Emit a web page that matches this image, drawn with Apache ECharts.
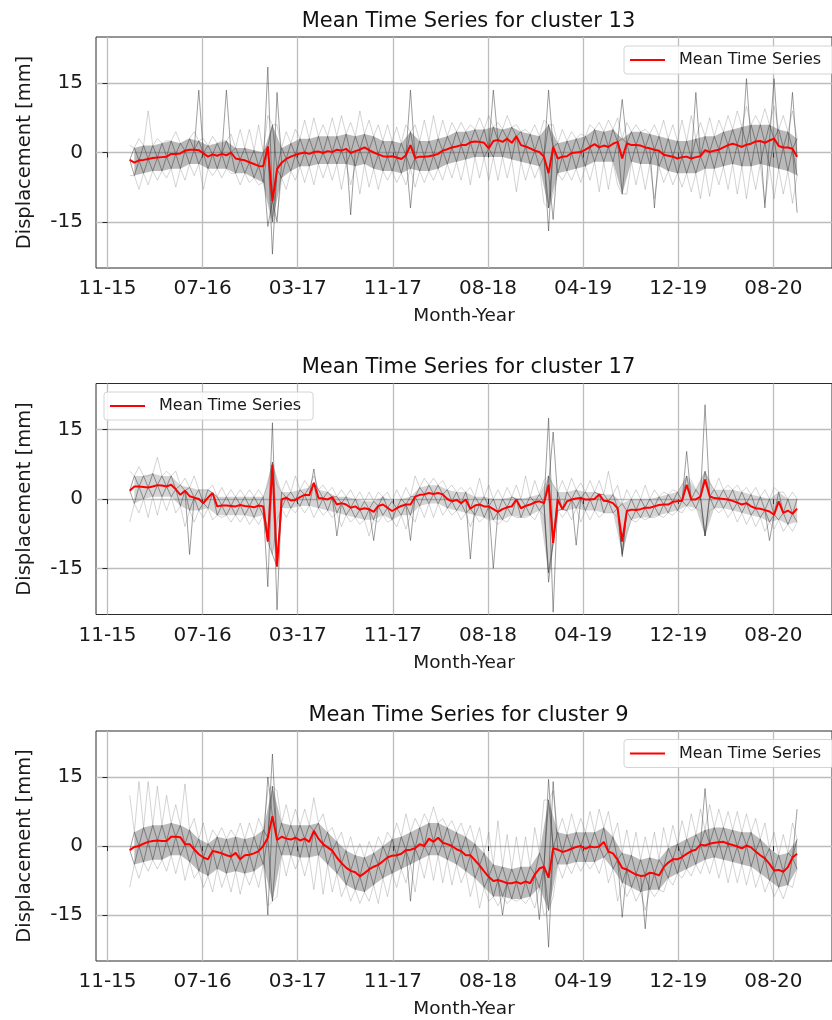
<!DOCTYPE html>
<html>
<head>
<meta charset="utf-8">
<script src="https://cdn.jsdelivr.net/npm/echarts@6.0.0/dist/echarts.min.js"></script>
<style>
  html, body { margin: 0; padding: 0; background: #fff; }
  #chart { width: 832px; height: 1020px; }
</style>
</head>
<body>
<div id="chart"></div>
<script>
// x is counted in days from the "11-15" tick, one acquisition every 12 days
const xTickDays = [0, 248, 496, 744, 992, 1240, 1488, 1736]
const xTickLabels = ['11-15', '07-16', '03-17', '11-17', '08-18', '04-19', '12-19', '08-20']
const yTicks = [-15, 0, 15]
const days = Array.from({ length: 146 }, (_, i) => 58 + 12 * i)
const outerDays = days.filter((_, i) => i % 2 === 0)
const innerDays = days.filter((_, i) => i % 2 === 1)

// ---- cluster 13
const mean13 = [
  -1.6, -2.2, -1.7, -1.6, -1.4, -1.2, -1.1, -1.0, -0.9, -0.3,
  -0.3, -0.2, 0.4, 0.6, 0.6, 0.5, -0.2, -0.9, -0.4, -0.7,
  -0.3, -0.6, 0.0, -1.3, -1.5, -1.7, -2.1, -2.5, -2.9, -3.0,
  1.3, -10.5, -3.6, -2.2, -1.4, -0.9, -0.5, -0.2, 0.0, -0.3,
  0.1, 0.2, -0.1, 0.3, 0.1, 0.6, 0.4, 0.8, -0.1, 0.3,
  0.6, 1.1, 0.5, 0.0, -0.4, -0.8, -0.9, -0.8, -1.1, -1.4,
  -0.6, 1.6, -1.2, -0.9, -0.9, -0.8, -0.6, -0.3, 0.4, 0.7,
  1.1, 1.3, 1.6, 1.6, 2.2, 2.4, 2.3, 2.1, 0.9, 2.5,
  2.7, 2.3, 3.0, 2.1, 3.5, 1.6, 1.3, 0.9, 0.4, 0.1,
  -0.9, -4.5, 1.2, -1.3, -0.9, -0.8, -0.1, 0.0, 0.1, 0.6,
  1.2, 1.8, 1.1, 1.5, 1.2, 1.9, 2.3, -1.3, 2.0, 1.6,
  1.6, 1.5, 1.1, 0.9, 0.6, 0.4, -0.5, -0.7, -0.9, -1.3,
  -1.0, -0.9, -1.3, -1.0, -0.8, 0.5, 0.1, 0.4, 0.6, 1.1,
  1.6, 1.9, 1.6, 1.2, 1.7, 1.9, 2.4, 2.5, 2.1, 2.6,
  3.0, 1.4, 1.1, 1.1, 0.8, -0.9
]
const hi13 = [
  1.5, 3, 9, 3, 2.5, 4.5, 2.5, 4.5, 3, 3.5,
  2.5, 4, 5, 5, 6, 8, 6, 4.5, 5, 7,
  7.5, 6, 7.5, 8, 6.5, 9, 7, 6, 6, 5.5,
  6, 6, 7, 8, 7, 6.5, 6.5, 6, 7.5, 8,
  6.5, 8, 6, 5, 6, 7, 6, 5, 4.5, 4,
  6, 6.5, 7, 7.5, 6.5, 6, 5, 6, 7, 6,
  7, 8, 6.5, 7.5, 7, 8, 9, 10, 8, 9.5,
  10, 8, 9
]
const lo13 = [
  -5, -8, -7, -6, -5.5, -7.5, -6, -5, -8, -5,
  -5.5, -4.5, -7, -6.5, -7, -11, -14, -8, -6, -6.5,
  -7, -5.5, -6, -8, -7, -9, -7.5, -8, -6, -6.5,
  -7, -7.5, -6.5, -6, -6, -5.5, -6, -7, -5.5, -6,
  -6, -5.5, -8.5, -6, -5.5, -11, -9, -6, -6, -6.5,
  -6, -8.5, -8, -7, -9, -7, -8, -10, -6.5, -7,
  -7.5, -8.5, -10, -9.5, -7, -8, -9, -10, -8, -11,
  -10, -9, -11
]
const core13Hi = [
  1.0, 1.5, 1.5, 2.0, 2.5, 2.0, 3.0, 2.5, 1.5, 2.0,
  2.5, 1.0, 1.0, 0.5, 0.0, 6, 1.0, 2.0, 3.0, 3.0,
  3.5, 3.5, 3.5, 4.0, 3.5, 4.0, 3.5, 2.5, 2.5, 2.0,
  4.5, 2.5, 2.5, 3.0, 3.5, 4.5, 4.5, 5.0, 5.0, 5.5,
  5.0, 5.5, 4.5, 4.0, 3.5, 6, 2.0, 2.5, 3.0, 3.5,
  5.0, 4.5, 5.0, 3, 4.5, 4.5, 4.0, 3.5, 3.0, 2.5,
  2.5, 3.0, 3.5, 3.5, 4.5, 5.0, 5.5, 6.0, 6.0, 6.0,
  5.0, 4.5, 3.0
]
const core13Lo = [
  -5, -4.5, -4, -4, -3.5, -3.5, -2.5, -2.5, -3.5, -3.5,
  -3.5, -4.5, -4.5, -5.5, -6.5, -15, -5.5, -4, -3, -3,
  -2.5, -2.5, -2.5, -2.5, -3, -2.5, -3.5, -4, -4, -4.5,
  -3.5, -4, -4, -3.5, -2.5, -2, -1.5, -1, -1, -1,
  -1, -1.5, -2, -2.5, -3, -12, -4.5, -4, -3.5, -3,
  -2, -2, -2, -9, -2, -2.5, -2.5, -3, -4, -4.5,
  -4.5, -4.5, -3.5, -3.5, -3, -2.5, -3, -3, -2.5, -3,
  -3.5, -4, -5
]
// [acquisition index, value] of single-date outliers
const spikes13 = [
  [15, 13.5], [21, 13.5], [30, 18.5], [32, 13], [31, -22], [30, -16], [32, -15],
  [48, -13.5], [61, 13.5], [61, -12], [79, 13.5], [91, 13.5], [91, -17], [92, -14.5],
  [107, 11.5], [114, -12], [123, 13], [134, 16], [138, -12], [140, 16], [144, 13], [145, -13]
]

// ---- cluster 17
const mean17 = [
  1.8, 2.7, 2.7, 2.6, 2.5, 2.7, 3.0, 2.9, 2.7, 3.1,
  2.1, 0.9, 1.8, 0.6, 0.3, 0.0, -0.9, 0.3, 1.3, -1.6,
  -1.4, -1.4, -1.5, -1.6, -1.3, -1.5, -1.6, -1.8, -1.4, -1.6,
  -9.2, 7.4, -14.6, -0.1, 0.3, -0.3, -0.2, 0.4, 0.9, 0.8,
  3.5, 0.2, 0.1, -0.1, 0.4, -1.2, -0.9, -1.2, -1.9, -1.6,
  -2.3, -2.0, -2.2, -2.8, -1.5, -1.2, -1.9, -2.6, -2.0, -1.5,
  -1.2, -1.2, 0.5, 0.9, 1.0, 1.3, 1.1, 1.3, 1.0, 0.0,
  -0.5, -0.2, -0.9, -0.1, -2.1, -1.4, -1.2, -1.6, -1.6, -2.2,
  -2.8, -2.2, -1.8, -1.6, -0.1, -2.0, -1.5, -1.2, -0.7, -0.5,
  -0.9, 3.1, -9.5, -0.1, -2.2, -0.5, -0.1, 0.1, 0.2, -0.1,
  -0.1, 0.0, 1.0, -0.4, -0.5, -0.9, -2.0, -9.2, -2.6, -2.3,
  -2.4, -2.2, -1.9, -1.9, -1.6, -1.3, -1.2, -1.2, -0.6, -0.5,
  -0.4, 3.1, -0.1, -0.1, 0.5, 4.2, 0.6, 0.2, 0.1, 0.0,
  -0.1, -0.4, -0.8, -1.2, -0.9, -1.6, -2.0, -2.1, -2.4, -2.7,
  -3.4, -0.5, -3.0, -2.5, -3.2, -2.1
]
const hi17 = [
  6, 7, 5, 9, 6, 6, 4.5, 5, 2, 3,
  2.5, 2, 2, 2, 2, 3, 3, 4, 5, 4,
  5, 3, 2.5, 2, 2, 1.5, 1.5, 1.5, 1.5, 2,
  2.5, 5, 4.5, 4.5, 4, 3, 2.5, 2.5, 4.5, 3,
  2, 2.5, 3, 5, 4, 4, 3, 4, 4.5, 3.5,
  4, 4, 6, 3, 2, 2, 3, 2, 1.5, 2,
  3, 4, 4, 3.5, 4.5, 3, 3, 2.5, 2.5, 2,
  2.5, 1.5, 1.5
]
const lo17 = [
  -5, -3, -4, -3.5, -2.5, -3, -6, -5, -4, -4.5,
  -4, -5, -5, -5.5, -5.5, -6, -4.5, -4, -3, -3,
  -4, -3.5, -4, -6, -5, -5.5, -8, -5, -5, -6,
  -6.5, -5, -4, -4, -3.5, -3.5, -4.5, -6, -5, -4.5,
  -5.5, -5, -4, -4, -4.5, -3.5, -8, -4, -4.5, -5,
  -4.5, -4, -3, -4, -7, -5, -4.5, -4, -4, -3.5,
  -3, -2.5, -2.5, -2.5, -3, -4, -5, -5.5, -6, -7,
  -6.5, -7, -7
]
const core17Hi = [
  5, 5, 5.5, 5, 5, 3, 2.5, 2, 2, 0.5,
  0.5, 0.5, 0.5, 0.5, 0.5, 8, 1.5, 1.5, 2, 2.5,
  2, 1.5, 0.5, 0.5, 0, -0.5, -0.5, 0.5, -0.5, 0,
  0.5, 2.5, 3, 3, 2, 1.5, 1.5, 0.5, 0.5, 0,
  0, 0.5, 0, 0.5, 1, 5, 1.5, 1.5, 2, 1.5,
  1.5, 1, 1, -1, 0, 0, 0, 0.5, 1, 1.5,
  5, 2, 6, 2, 2, 2, 1.5, 1, 0.5, 0,
  1.5, 0, 0
]
const core17Lo = [
  -1, 0, 0.5, 0.5, 0.5, -1.5, -2.5, -2.5, -2, -3.5,
  -3.5, -3.5, -3.5, -4, -3.5, -12, -2, -2, -1.5, -1.5,
  -2, -2.5, -3, -3.5, -4, -4.5, -4.5, -3.5, -4.5, -3.5,
  -3.5, -1.5, -1, -1, -2, -2.5, -3, -3.5, -4, -4.5,
  -4.5, -3.5, -4, -3.5, -2.5, -16, -2.5, -2.5, -2, -2.5,
  -2.5, -3, -3, -12, -4.5, -4, -4, -3.5, -3, -2.5,
  -1.5, -2, -8, -2, -2, -2.5, -3, -3.5, -4, -5,
  -4.5, -5.5, -5
]
const spikes17 = [
  [13, -12], [31, 16.5], [32, -24], [30, -19], [40, 6.5], [45, -8], [53, -9], [61, -9],
  [74, -13], [79, -15], [91, 17.5], [92, 14.5], [92, -24.5], [91, -18], [97, -10],
  [107, -12.5], [121, 10.3], [125, 20.4], [125, -8], [139, -9]
]

// ---- cluster 9
const mean9 = [
  -0.9, -0.2, 0.0, 0.5, 0.9, 1.1, 1.2, 1.1, 1.1, 2.0,
  2.0, 1.9, 0.4, 0.4, -0.7, -1.8, -2.5, -2.9, -1.1, -1.3,
  -1.6, -2.0, -2.3, -1.5, -2.9, -2.0, -1.9, -1.6, -1.1, 0.0,
  1.8, 6.5, 1.3, 2.0, 1.6, 1.4, 1.8, 1.2, 1.6, 0.9,
  3.3, 1.6, 0.4, -0.3, -1.0, -2.5, -3.7, -4.7, -5.4, -5.7,
  -6.6, -5.9, -5.1, -4.5, -4.1, -3.3, -2.5, -2.1, -2.0, -1.7,
  -0.9, -0.8, -0.5, 0.4, 0.0, 1.6, 0.9, 1.8, 0.7, 0.4,
  0.0, -0.7, -1.1, -2.0, -2.0, -3.1, -4.2, -5.5, -6.7, -7.6,
  -7.4, -7.7, -8.1, -8.1, -7.8, -8.2, -7.7, -8.1, -6.2, -4.9,
  -4.5, -6.9, -0.5, -0.8, -1.3, -1.0, -0.6, -0.2, 0.0, -0.6,
  -0.1, -0.3, -0.1, 0.9, -1.2, -1.6, -3.0, -4.8, -5.1, -5.7,
  -6.2, -6.5, -6.4, -5.8, -6.0, -6.4, -4.6, -3.6, -2.9, -2.9,
  -2.4, -1.7, -1.1, -0.8, 0.3, 0.1, 0.5, 0.7, 0.8, 0.9,
  0.5, 0.2, -0.1, -0.5, 0.1, -0.3, -1.2, -2.0, -2.7, -3.9,
  -5.3, -5.2, -5.6, -4.6, -2.5, -1.7
]
const hi9 = [
  11, 14, 14, 13, 11, 9, 13.5, 6, 5, 3.5,
  4, 3.5, 5, 5, 6, 12, 12, 9, 8, 8,
  10.5, 7, 4, 3, 2, 0.5, 1, 2, 3, 5,
  7, 6, 7, 8.5, 6, 5.5, 5, 4.5, 4, 3,
  5.5, 2.5, 2, 2, 4, 10, 12, 6, 7, 6,
  7.5, 8, 7.5, 5, 3.5, 3, 2, 3, 4, 4.5,
  5.5, 7, 8, 9, 8, 7.5, 7.5, 7, 6, 5,
  3, 2.5, 5
]
const lo9 = [
  -9, -7, -5.5, -5, -5.5, -6, -7.5, -7, -9, -10,
  -9, -10, -10.5, -8.5, -9, -13, -11, -6.5, -5, -6.5,
  -9.5, -10.5, -10, -11, -12, -12.5, -12, -12.5, -11, -9,
  -8, -10, -7, -7.5, -8, -8.5, -8, -11, -13.5, -12,
  -13, -12.5, -12, -12.5, -13.5, -15, -11, -7, -6, -5.5,
  -5, -6, -8, -12, -11, -12, -14, -11, -10, -8.5,
  -7, -6.5, -6, -6, -7, -8, -8, -8.5, -9, -10,
  -11, -11.5, -9
]
const core9Hi = [
  3, 4, 4.5, 4.5, 5, 4.5, 3.5, 1.5, 0.5, 2,
  1.5, 2, 1.5, 2, 3.5, 13, 5, 4.5, 4.5, 4.5,
  5, 3, 1, -1, -2, -2.5, -1.5, 0, 1.5, 2,
  3, 4, 5, 5, 4, 3, 2, 0.5, -1.5, -4,
  -4.5, -5, -4.5, -4.5, -1.5, 10, 3, 2.5, 3, 3,
  3, 4, 2, -1.5, -2, -3, -2.5, -3, -0.5, 0.5,
  1.5, 2.5, 3.5, 4, 4, 3.5, 3, 3, 1.5, -0.5,
  -2, -1.5, 1.5
]
const core9Lo = [
  -4, -3.5, -3, -3, -2, -2, -3.5, -5.5, -6.5, -5,
  -6, -5.5, -6, -5.5, -4, -12, -2, -2, -2.5, -2.5,
  -2, -4, -6, -8.5, -9.5, -10, -8.5, -7, -6, -5,
  -4, -3, -2, -2, -3, -4, -5.5, -7, -9, -11,
  -11, -11.5, -11.5, -11, -9, -14, -4, -4, -3.5, -3.5,
  -3.5, -2.5, -5, -8, -9, -10, -9.5, -9.5, -7, -6,
  -5, -4, -3, -2.5, -3, -3.5, -4, -4.5, -6, -7.5,
  -9, -8.5, -5
]
const spikes9 = [
  [30, 15], [31, 20], [30, -15], [61, -12], [81, -15], [89, -16], [91, 14.5],
  [92, 14], [91, -22], [107, -15.5], [112, -18], [125, 12.5], [145, 8]
]

const panels = [
  { title: 'Mean Time Series for cluster 13', mean: mean13, hi: hi13, lo: lo13, coreHi: core13Hi, coreLo: core13Lo, spikes: spikes13, top: 37, legend: { left: 624, top: 46 }, coreFill: 'rgba(80,80,80,0.4)' },
  { title: 'Mean Time Series for cluster 17', mean: mean17, hi: hi17, lo: lo17, coreHi: core17Hi, coreLo: core17Lo, spikes: spikes17, top: 383.5, legend: { left: 104, top: 392 }, coreFill: 'rgba(90,90,90,0.26)' },
  { title: 'Mean Time Series for cluster 9', mean: mean9, hi: hi9, lo: lo9, coreHi: core9Hi, coreLo: core9Lo, spikes: spikes9, top: 731, legend: { left: 624, top: 739.5 }, coreFill: 'rgba(80,80,80,0.38)' }
]

const FONT = 'DejaVu Sans'
const GRID_LEFT = 96
const GRID_WIDTH = 745
const GRID_HEIGHT = 231

const zip = (xs, ys) => xs.map((x, i) => [x, ys[i]])
const evenOf = arr => arr.filter((_, i) => i % 2 === 0)

// alternate a list taken at the even acquisitions with one taken at the odd ones
function interleave(evenVals, oddVals) {
  const out = []
  outerDays.forEach((d, k) => {
    out.push([d, evenVals[k]])
    if (k < innerDays.length) out.push([innerDays[k], oddVals[k]])
  })
  return out
}

function spikeData(spikes, mean) {
  const out = []
  spikes.forEach(([i, v]) => {
    if (i > 0) out.push([days[i - 1], mean[i - 1]])
    out.push([days[i], v])
    if (i < days.length - 1) out.push([days[i + 1], mean[i + 1]])
    out.push([days[i], '-'])
  })
  return out
}

// the dense core of the member series, drawn as one filled polygon
function coreBand(lo, hi, fill) {
  return (params, api) => {
    if (params.dataIndex !== 0) return null
    const top = innerDays.map((d, i) => api.coord([d, hi[i]]))
    const bottom = innerDays.map((d, i) => api.coord([d, lo[i]])).reverse()
    return {
      type: 'polygon',
      shape: { points: top.concat(bottom) },
      style: { fill }
    }
  }
}

const chart = echarts.init(document.getElementById('chart'), null, { renderer: 'canvas' })

const grid = [], xAxis = [], yAxis = [], title = [], legend = [], series = []

panels.forEach((p, n) => {
  grid.push({
    left: GRID_LEFT, top: p.top, width: GRID_WIDTH, height: GRID_HEIGHT,
    show: true, borderColor: '#2b2b2b', borderWidth: 1, backgroundColor: 'transparent'
  })
  title.push({
    text: p.title, left: GRID_LEFT + GRID_WIDTH / 2, top: p.top - 26, padding: 0,
    textAlign: 'center', textVerticalAlign: 'top',
    textStyle: { fontFamily: FONT, fontSize: 21, fontWeight: 'normal', color: '#111' }
  })
  legend.push({
    left: p.legend.left, top: p.legend.top, padding: [6, 12, 6, 6],
    data: ['Mean Time Series'], icon: 'rect', itemWidth: 35, itemHeight: 2,
    backgroundColor: 'rgba(255,255,255,0.85)', borderColor: '#d4d4d4', borderWidth: 1, borderRadius: 3,
    selectedMode: false,
    textStyle: { fontFamily: FONT, fontSize: 16, color: '#1a1a1a', padding: [0, 0, 0, 9] }
  })
  xAxis.push({
    gridIndex: n, type: 'value', min: -30, max: 1889,
    name: 'Month-Year', nameLocation: 'middle', nameGap: 39,
    nameTextStyle: { fontFamily: FONT, fontSize: 18.5, color: '#1a1a1a' },
    axisLine: { show: false },
    axisTick: { show: true, customValues: xTickDays, length: 5, lineStyle: { color: '#2b2b2b', width: 1 } },
    axisLabel: {
      customValues: xTickDays, margin: 11, fontFamily: FONT, fontSize: 20, color: '#1a1a1a',
      formatter: v => xTickLabels[xTickDays.indexOf(v)]
    },
    splitLine: { show: true, lineStyle: { color: '#bdbdbd', width: 1.3 } }
  })
  yAxis.push({
    gridIndex: n, type: 'value', min: -25, max: 25,
    name: 'Displacement [mm]', nameLocation: 'middle', nameGap: 61,
    nameTextStyle: { fontFamily: FONT, fontSize: 19.5, color: '#1a1a1a' },
    axisLine: { show: false },
    axisTick: { show: true, customValues: yTicks, length: 5, lineStyle: { color: '#2b2b2b', width: 1 } },
    axisLabel: { customValues: yTicks, margin: 13, fontFamily: FONT, fontSize: 20, color: '#1a1a1a' },
    splitLine: { show: true, lineStyle: { color: '#bdbdbd', width: 1.3 } }
  })

  const base = { type: 'line', xAxisIndex: n, yAxisIndex: n, symbol: 'none', silent: true, animation: false }
  const light = { color: 'rgba(120,120,120,0.32)', width: 1 }
  const dark = { color: 'rgba(55,55,55,0.48)', width: 1 }
  series.push(
    {
      type: 'custom', name: 'core ' + n, xAxisIndex: n, yAxisIndex: n, silent: true, clip: true,
      data: innerDays.map((d, i) => [d, p.coreLo[i], p.coreHi[i]]),
      encode: { x: 0, y: [1, 2] },
      renderItem: coreBand(p.coreLo, p.coreHi, p.coreFill)
    },
    // members reaching the outer spread
    { ...base, name: 'members up ' + n, data: interleave(p.hi, p.coreHi), lineStyle: light },
    { ...base, name: 'members down ' + n, data: interleave(p.lo, p.coreLo), lineStyle: light },
    // members inside the dense core
    { ...base, name: 'core up ' + n, data: interleave(evenOf(p.mean), p.coreHi), lineStyle: dark },
    { ...base, name: 'core down ' + n, data: interleave(evenOf(p.mean), p.coreLo), lineStyle: dark },
    { ...base, name: 'spikes ' + n, data: spikeData(p.spikes, p.mean), connectNulls: false, lineStyle: dark },
    { ...base, name: 'Mean Time Series', data: zip(days, p.mean), z: 5,
      itemStyle: { color: '#ff0000' }, lineStyle: { color: '#ff0000', width: 2 } }
  )
})

chart.setOption({
  backgroundColor: '#ffffff',
  animation: false,
  textStyle: { fontFamily: FONT },
  title, legend, grid, xAxis, yAxis, series
})
</script>
</body>
</html>
